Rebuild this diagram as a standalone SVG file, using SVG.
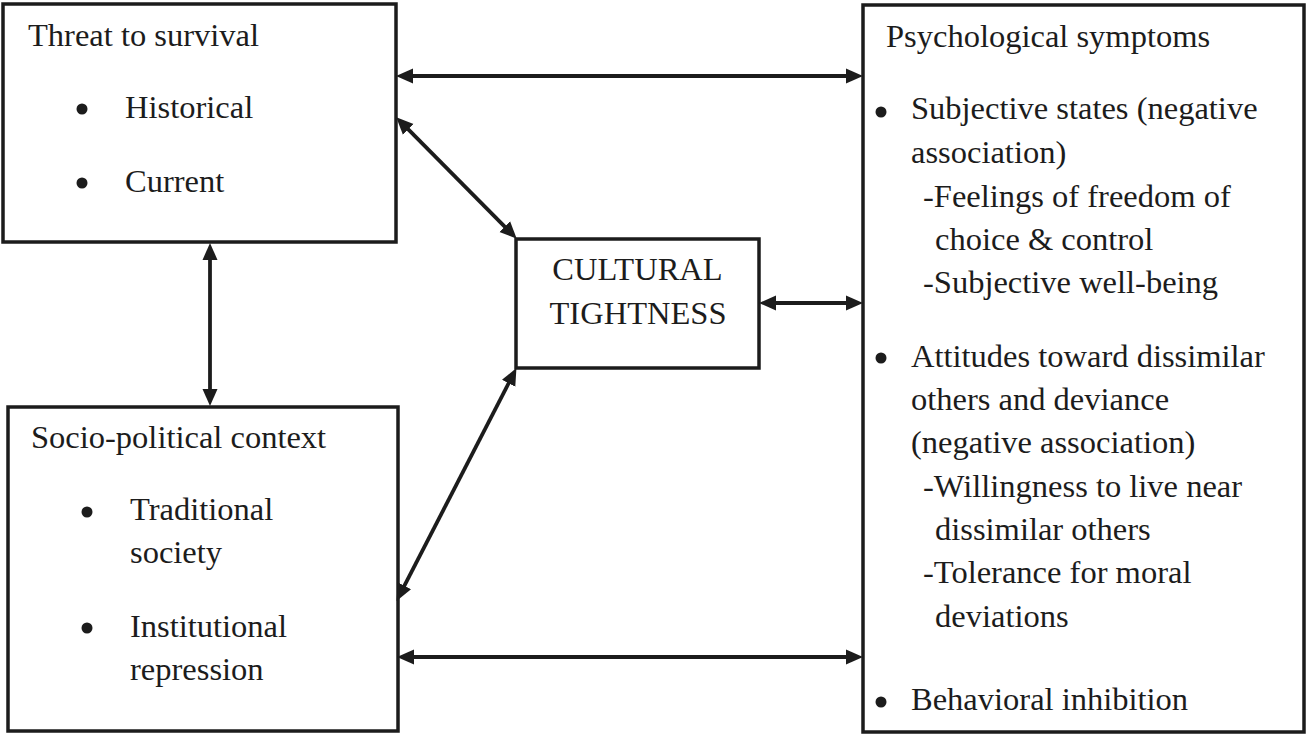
<svg xmlns="http://www.w3.org/2000/svg" width="1308" height="737" viewBox="0 0 1308 737">
<style>
.box{fill:#fff;stroke:#1c1c1c;stroke-width:3.5}
.t{font-family:"Liberation Serif","Times New Roman",serif;font-size:32.5px;fill:#1c1c1c}
.c{text-anchor:middle}
.con{stroke:#1c1c1c;stroke-width:3.8;fill:none;marker-start:url(#ah);marker-end:url(#ah)}
.b{fill:#1c1c1c}
</style>
<defs>
<marker id="ah" markerUnits="userSpaceOnUse" markerWidth="17" markerHeight="16" viewBox="0 0 17 16" refX="8" refY="8" orient="auto-start-reverse">
<path d="M0,0.5 L17,8 L0,15.5 z" fill="#1c1c1c"/>
</marker>
</defs>
<rect width="1308" height="737" fill="#fff"/>
<g id="threat">
<rect class="box" x="3" y="4" width="393" height="238"/>
<text class="t" x="28" y="46">Threat to survival</text>
<circle class="b" cx="82" cy="109" r="5.5"/>
<text class="t" x="125" y="118">Historical</text>
<circle class="b" cx="82" cy="183" r="5.5"/>
<text class="t" x="125" y="192">Current</text>
</g>
<g id="socio">
<rect class="box" x="8" y="407" width="390" height="324"/>
<text class="t" x="31" y="448">Socio-political context</text>
<circle class="b" cx="87" cy="512" r="5.5"/>
<text class="t" x="130" y="520">Traditional</text>
<text class="t" x="130" y="563">society</text>
<circle class="b" cx="87" cy="628" r="5.5"/>
<text class="t" x="130" y="637">Institutional</text>
<text class="t" x="130" y="680">repression</text>
</g>
<g id="tightness">
<rect class="box" x="516" y="239" width="243" height="129"/>
<text class="t c" x="637.5" y="280">CULTURAL</text>
<text class="t c" x="638" y="324">TIGHTNESS</text>
</g>
<g id="symptoms">
<rect class="box" x="863" y="5" width="441" height="727"/>
<text class="t" x="886" y="47">Psychological symptoms</text>
<circle class="b" cx="881" cy="112" r="5.5"/>
<text class="t" x="911" y="119">Subjective states (negative</text>
<text class="t" x="911" y="163">association)</text>
<text class="t" x="923" y="207">-Feelings of freedom of</text>
<text class="t" x="935" y="250">choice &amp; control</text>
<text class="t" x="923" y="293">-Subjective well-being</text>
<circle class="b" cx="881" cy="358" r="5.5"/>
<text class="t" x="911" y="367">Attitudes toward dissimilar</text>
<text class="t" x="911" y="410">others and deviance</text>
<text class="t" x="911" y="453">(negative association)</text>
<text class="t" x="923" y="497">-Willingness to live near</text>
<text class="t" x="935" y="540">dissimilar others</text>
<text class="t" x="923" y="583">-Tolerance for moral</text>
<text class="t" x="935" y="627">deviations</text>
<circle class="b" cx="881" cy="702" r="5.5"/>
<text class="t" x="911" y="710">Behavioral inhibition</text>
</g>
<g id="connectors">
<line class="con" x1="405" y1="76" x2="854" y2="76"/>
<line class="con" x1="402.6" y1="123.7" x2="510.4" y2="232.3"/>
<line class="con" x1="768" y1="303" x2="854" y2="303"/>
<line class="con" x1="512.3" y1="376.1" x2="400.7" y2="592.9"/>
<line class="con" x1="406" y1="657" x2="854" y2="657"/>
<line class="con" x1="210" y1="252" x2="210" y2="397"/>
</g>
</svg>
